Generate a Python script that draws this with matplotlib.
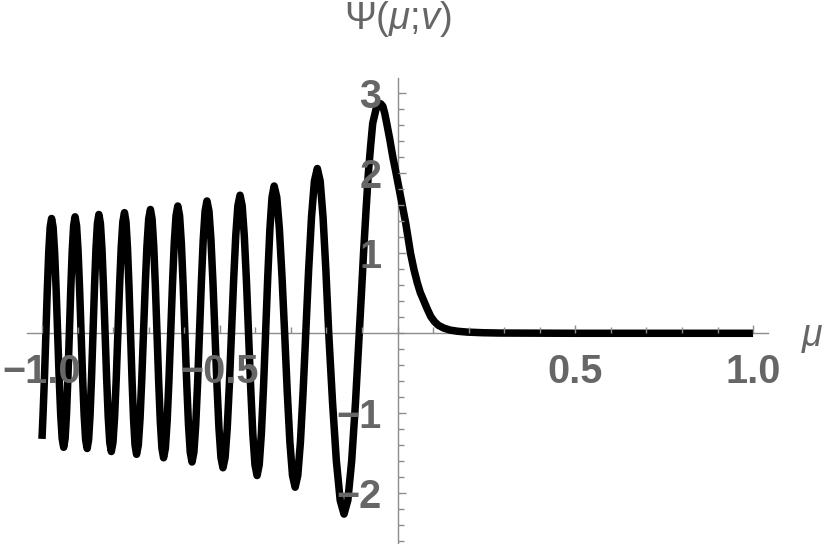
import matplotlib
matplotlib.use("Agg")
import matplotlib.pyplot as plt
from matplotlib.ticker import MultipleLocator, FixedLocator

# curve, one row per half-wave (mu, psi)
MU = [
    -1.000, -0.997, -0.993, -0.989, -0.985, -0.981, -0.977,
    -0.973, -0.96875, -0.9645, -0.96025, -0.956, -0.95175, -0.9475, -0.94325,
    -0.939, -0.935, -0.931, -0.927, -0.923, -0.919, -0.915, -0.911,
    -0.907, -0.90275, -0.8985, -0.89425, -0.890, -0.88575, -0.8815, -0.87725,
    -0.873, -0.86888, -0.86475, -0.86063, -0.8565, -0.85238, -0.84825, -0.84413,
    -0.840, -0.83563, -0.83125, -0.82688, -0.8225, -0.81813, -0.81375, -0.80938,
    -0.805, -0.80038, -0.79575, -0.79113, -0.7865, -0.78188, -0.77725, -0.77263,
    -0.768, -0.76375, -0.7595, -0.75525, -0.751, -0.74675, -0.7425, -0.73825,
    -0.734, -0.72913, -0.72425, -0.71938, -0.7145, -0.70963, -0.70475, -0.69988,
    -0.695, -0.69038, -0.68575, -0.68113, -0.6765, -0.67188, -0.66725, -0.66263,
    -0.658, -0.653, -0.648, -0.643, -0.638, -0.633, -0.628, -0.623,
    -0.618, -0.613, -0.608, -0.603, -0.598, -0.593, -0.588, -0.583,
    -0.578, -0.57275, -0.5675, -0.56225, -0.557, -0.55175, -0.5465, -0.54125,
    -0.536, -0.53038, -0.52475, -0.51913, -0.5135, -0.50788, -0.50225, -0.49663,
    -0.491, -0.485, -0.479, -0.473, -0.467, -0.461, -0.455, -0.449,
    -0.443, -0.437, -0.431, -0.425, -0.419, -0.413, -0.407, -0.401,
    -0.395, -0.389, -0.383, -0.377, -0.371, -0.365, -0.359, -0.353,
    -0.347, -0.33963, -0.33225, -0.32488, -0.3175, -0.31013, -0.30275, -0.29538,
    -0.288, -0.28055, -0.2731, -0.26565, -0.2582, -0.25005, -0.2419, -0.23375,
    -0.2256, -0.21758, -0.20955, -0.20153, -0.1935, -0.18275, -0.172, -0.16125,
    -0.1505, -0.13975, -0.129, -0.11825, -0.1075, -0.1015, -0.0956, -0.0888,
    -0.0821, -0.0755, -0.0698, -0.0605, -0.0540,
    -0.0478, -0.0415, -0.0360, -0.0304, -0.0220, -0.0135, -0.0040, 0.0051,
    0.0140, 0.0231, 0.0366, 0.0460, 0.0557, 0.0640, 0.0726, 0.0830,
    0.0934, 0.104, 0.1148, 0.130, 0.148, 0.170, 0.196, 0.240,
    0.288, 0.40, 0.5, 1.0,
]
PSI = [
    -1.32, -1.01, -0.548, 0.0, 0.55, 1.015, 1.326,
    1.435, 1.326, 1.015, 0.550, 0.0, -0.546, -1.007, -1.317,
    -1.425, -1.317, -1.007, -0.546, 0.0, 0.558, 1.029, 1.345,
    1.456, 1.345, 1.029, 0.558, 0.0, -0.552, -1.018, -1.331,
    -1.440, -1.331, -1.018, -0.552, 0.0, 0.569, 1.050, 1.372,
    1.485, 1.372, 1.050, 0.569, 0.0, -0.566, -1.045, -1.366,
    -1.478, -1.366, -1.045, -0.566, 0.0, 0.578, 1.066, 1.393,
    1.508, 1.393, 1.066, 0.578, 0.0, -0.579, -1.070, -1.398,
    -1.513, -1.398, -1.070, -0.579, 0.0, 0.593, 1.094, 1.430,
    1.548, 1.430, 1.094, 0.593, 0.0, -0.596, -1.100, -1.438,
    -1.556, -1.438, -1.100, -0.596, 0.0, 0.609, 1.125, 1.470,
    1.591, 1.470, 1.125, 0.609, 0.0, -0.616, -1.138, -1.487,
    -1.609, -1.487, -1.138, -0.616, 0.0, 0.633, 1.169, 1.528,
    1.654, 1.528, 1.169, 0.633, 0.0, -0.644, -1.188, -1.553,
    -1.681, -1.553, -1.188, -0.644, 0.0, 0.661, 1.220, 1.595,
    1.726, 1.595, 1.220, 0.661, 0.0, -0.681, -1.257, -1.643,
    -1.778, -1.643, -1.257, -0.681, 0.0, 0.705, 1.302, 1.701,
    1.841, 1.701, 1.302, 0.705, 0.0, -0.737, -1.360, -1.778,
    -1.924, -1.778, -1.360, -0.737, 0.0, 0.789, 1.456, 1.903,
    2.060, 1.903, 1.456, 0.789, 0.0, -0.866, -1.598, -2.088,
    -2.26, -2.088, -1.598, -0.866, 0.0, 0.5, 1.0, 1.52,
    2.0, 2.35, 2.625, 2.80, 2.855,
    2.87, 2.84, 2.75, 2.625, 2.43, 2.21, 2.0, 1.79,
    1.58, 1.375, 1.0, 0.80, 0.63, 0.51, 0.42, 0.31,
    0.21, 0.145, 0.10, 0.065, 0.04, 0.025, 0.015, 0.007,
    0.003, 0.001, 0.0, 0.0,
]

X_TICKS = [-1.0, -0.5, 0.5, 1.0]
X_LABELS = ["\u22121.0", "\u22120.5", "0.5", "1.0"]
Y_TICKS = [-2, -1, 1, 2, 3]
Y_LABELS = ["\u22122", "\u22121", "1", "2", "3"]

AXIS_GRAY = "#8c8c8c"
TEXT_GRAY = "#666666"

plt.rcParams["font.family"] = ["Liberation Sans", "DejaVu Sans"]
plt.rcParams["mathtext.fontset"] = "custom"
plt.rcParams["mathtext.rm"] = "Liberation Sans"
plt.rcParams["mathtext.it"] = "Liberation Sans:italic"

fig = plt.figure(figsize=(8.3, 5.44), dpi=100)
ax = fig.add_axes([26.7 / 830, 0.0, (768 - 26.7) / 830, (544 - 78.1) / 544])

ax.plot(MU, PSI, color="black", lw=5.4, solid_joinstyle="round",
        solid_capstyle="butt", zorder=3)

ax.set_xlim(-1.043, 1.042)
ax.set_ylim(-2.634, 3.19)

for side in ["top", "right"]:
    ax.spines[side].set_visible(False)
ax.spines["left"].set_position(("data", 0))
ax.spines["bottom"].set_position(("data", 0))
for side in ["left", "bottom"]:
    ax.spines[side].set_color(AXIS_GRAY)
    ax.spines[side].set_linewidth(1.0)
    ax.spines[side].set_zorder(2)

ax.xaxis.set_major_locator(FixedLocator(X_TICKS))
ax.set_xticklabels(X_LABELS)
ax.xaxis.set_minor_locator(MultipleLocator(0.1))
ax.yaxis.set_major_locator(FixedLocator(Y_TICKS))
ax.set_yticklabels(Y_LABELS)
ax.yaxis.set_minor_locator(MultipleLocator(0.2))

ax.tick_params(which="both", direction="in", color=AXIS_GRAY, width=1.0)
ax.tick_params(which="major", length=6)
ax.tick_params(which="minor", length=4.5)
ax.tick_params(axis="x", which="major", pad=14, labelsize=28.5,
               labelcolor=TEXT_GRAY)
ax.tick_params(axis="y", which="major", pad=11.5, labelsize=28.5,
               labelcolor=TEXT_GRAY)
for lab in ax.get_xticklabels() + ax.get_yticklabels():
    lab.set_fontweight("bold")
ax.xaxis.set_zorder(4)
ax.yaxis.set_zorder(4)

ax.text(1.166, -0.05, r"$\mu$", fontsize=27, color=TEXT_GRAY,
        ha="center", va="center", clip_on=False)
ax.text(0.0, 3.93, r"$\Psi(\mu$;$v)$", fontsize=27.5, color=TEXT_GRAY,
        ha="center", va="center", clip_on=False)

fig.savefig("out.png", dpi=100)
